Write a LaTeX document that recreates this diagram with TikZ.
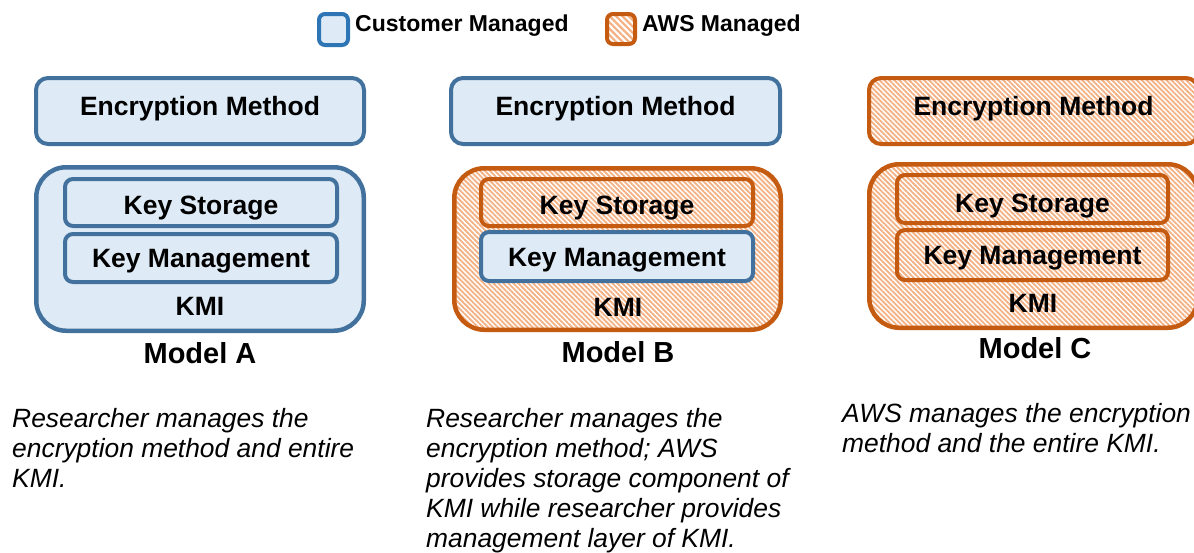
\documentclass[tikz,border=0pt]{standalone}
\usepackage{fontspec}
\setmainfont{Liberation Sans}
\usetikzlibrary{patterns.meta}
\definecolor{cmBorder}{HTML}{41719C}
\definecolor{cmLegend}{HTML}{2E75B6}
\definecolor{cmFill}{HTML}{DEEBF7}
\definecolor{awsBorder}{HTML}{C55A11}
\definecolor{awsHatch}{HTML}{F4B183}
\newcommand\lblfont{\fontsize{26.5}{30}\selectfont\bfseries}
\newcommand\capfont{\fontsize{26.4}{30}\selectfont\itshape}
\newcommand\legfont{\fontsize{23}{27}\selectfont\bfseries}
\tikzset{
  cbox/.style={draw=cmBorder, fill=cmFill, line width=4pt, rounded corners=#1,
    font=\lblfont, text=black, inner sep=0pt},
  abox/.style={draw=awsBorder, preaction={fill=white},
    pattern={Lines[angle=-45,distance=3.5pt,line width=1.8pt]}, pattern color=awsHatch,
    line width=4pt, rounded corners=#1, font=\lblfont, text=black, inner sep=0pt},
  enctext/.style={text height=18.6pt, text depth=9pt},
  kstext/.style={text height=#1, text depth=0pt},
  kmtext/.style={text height=19pt, text depth=0pt},
  lbl/.style={font=\lblfont, text=black, inner sep=0pt},
  mdl/.style={font=\fontsize{29}{33}\selectfont\bfseries, text=black, inner sep=0pt},
  captext/.style={font=\capfont, align=left, anchor=north west, inner sep=0pt, text=black},
  legtext/.style={font=\legfont, anchor=base west, inner sep=0pt, text=black}
}
\begin{document}
\begin{tikzpicture}[x=1pt,y=-1pt]
\useasboundingbox (0,0) rectangle (1194,552);
% legend
\node[cbox=6pt, draw=cmLegend, minimum width=29pt, minimum height=31pt] (legC) at (333.5,29.5) {};
\node[legtext] (legCt) at (355,31) {Customer Managed};
\node[abox=6pt, pattern={Lines[angle=-45,distance=4.5pt,line width=2.2pt]}, minimum width=28pt, minimum height=30pt] (legA) at (621,29) {};
\node[legtext] (legAt) at (642,31) {AWS Managed};
% Model A
\node[cbox=12pt, enctext, minimum width=328pt, minimum height=66pt] (encA) at (200,111) {Encryption Method};
\node[cbox=30pt, line width=4.5pt, minimum width=327.5pt, minimum height=163.5pt] (kmiA) at (200,249) {};
\node[cbox=8pt, kstext=24pt, minimum width=272pt, minimum height=47pt] (ksA) at (201,202.5) {Key Storage};
\node[cbox=8pt, kmtext, minimum width=272pt, minimum height=48pt] (kmA) at (201,258) {Key Management};
\node[lbl] (kA) at (200,306) {KMI};
\node[mdl] (mA) at (200,353) {Model A};
% Model B
\node[cbox=12pt, enctext, minimum width=329pt, minimum height=66pt] (encB) at (615.5,111) {Encryption Method};
\node[abox=30pt, line width=4.5pt, minimum width=326.5pt, minimum height=161.5pt] (kmiB) at (617.5,249) {};
\node[abox=8pt, kstext=24pt, minimum width=272pt, minimum height=47pt] (ksB) at (617,202.5) {Key Storage};
\node[cbox=8pt, kmtext, minimum width=272pt, minimum height=49pt] (kmB) at (617,256.5) {Key Management};
\node[lbl] (kB) at (618,307) {KMI};
\node[mdl] (mB) at (618,352) {Model B};
% Model C
\node[abox=12pt, enctext, minimum width=329pt, minimum height=66pt] (encC) at (1033.5,111) {Encryption Method};
\node[abox=30pt, line width=4.5pt, minimum width=328.5pt, minimum height=163.5pt] (kmiC) at (1033.5,246) {};
\node[abox=8pt, kstext=27pt, minimum width=271pt, minimum height=48pt] (ksC) at (1032.5,199) {Key Storage};
\node[abox=8pt, kmtext, minimum width=271pt, minimum height=50pt] (kmC) at (1032.5,255) {Key Management};
\node[lbl] (kC) at (1033,303) {KMI};
\node[mdl] (mC) at (1035,348) {Model C};
% captions
\node[captext] (cA) at (12,408) {Researcher manages the\\encryption method and entire\\KMI.};
\node[captext] (cB) at (426,408) {Researcher manages the\\encryption method; AWS\\provides storage component of\\KMI while researcher provides\\management layer of KMI.};
\node[captext] (cC) at (842,403) {AWS manages the encryption\\method and the entire KMI.};
\end{tikzpicture}
\end{document}
